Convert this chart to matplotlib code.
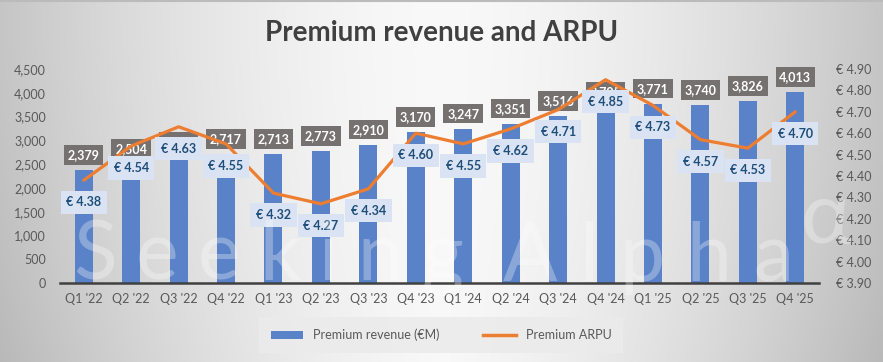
import numpy as np
import matplotlib
matplotlib.use("Agg")
import matplotlib.pyplot as plt
from matplotlib.patches import Patch
from matplotlib.lines import Line2D

categories = ["Q1 '22", "Q2 '22", "Q3 '22", "Q4 '22", "Q1 '23", "Q2 '23", "Q3 '23", "Q4 '23",
              "Q1 '24", "Q2 '24", "Q3 '24", "Q4 '24", "Q1 '25", "Q2 '25", "Q3 '25", "Q4 '25"]
revenue = [2379, 2504, 2651, 2717, 2713, 2773, 2910, 3170, 3247, 3351, 3516, 3705, 3771, 3740, 3826, 4013]
arpu = [4.38, 4.54, 4.63, 4.55, 4.32, 4.27, 4.34, 4.60, 4.55, 4.62, 4.71, 4.85, 4.73, 4.57, 4.53, 4.70]
left_ticks = [0, 500, 1000, 1500, 2000, 2500, 3000, 3500, 4000, 4500]
right_ticks = [3.9, 4.0, 4.1, 4.2, 4.3, 4.4, 4.5, 4.6, 4.7, 4.8, 4.9]

plt.rcParams['font.family'] = ['Lato', 'DejaVu Sans']

W, H = 883, 362
fig = plt.figure(figsize=(W / 100, H / 100), dpi=100)

# background gradient
bg = fig.add_axes([0, 0, 1, 1], zorder=-10)
xx, yy = np.meshgrid(np.linspace(-1, 1, 400), np.linspace(-1, 1, 200))
v = 0.975 - 0.2 * (np.abs(xx) ** 1.6) - 0.05 * ((yy + 1) / 2) ** 2 * (np.abs(xx) ** 0.8)
img = np.dstack([v, v, v])
bg.imshow(img, aspect='auto', extent=[0, 1, 0, 1], origin='upper')
bg.set_axis_off()
bg.set_xlim(0, 1)
bg.set_ylim(0, 1)
bg.plot([0, 1], [0.997, 0.997], color='#BBBBBB', lw=1.5)

x0, x1 = 60 / W, 819 / W
y0, y1 = 1 - 283 / H, 1 - 69 / H
ax = fig.add_axes([x0, y0, x1 - x0, y1 - y0])
ax.patch.set_alpha(0)
x = np.arange(len(categories))
ax.bar(x, revenue, width=0.38, color='#5A82C8', zorder=2)
ax.set_xlim(-0.5, len(categories) - 0.5)
ax.set_ylim(0, 4500)
ax.set_yticks(left_ticks)
ax.set_yticklabels([f"{t:,}" for t in left_ticks])
ax.set_xticks(x)
ax.set_xticklabels(categories)
for s in ['top', 'right', 'left']:
    ax.spines[s].set_visible(False)
ax.spines['bottom'].set_color('#404040')
ax.spines['bottom'].set_linewidth(1.8)
ax.tick_params(axis='y', length=0, pad=10, labelsize=9, labelcolor='#595959')
ax.tick_params(axis='x', length=0, pad=7, labelsize=9, labelcolor='#595959')

for xi, r in zip(x, revenue):
    ax.annotate(f"{r:,}", (xi, r), xytext=(0, 15), textcoords='offset pixels',
                ha='center', va='center', fontsize=9, fontweight='bold', color='white',
                bbox=dict(boxstyle='square,pad=0.3', fc='#767171', ec='none'), zorder=3)

ax2 = ax.twinx()
ax2.set_ylim(3.9, 4.9)
ax2.set_yticks(right_ticks)
ax2.set_yticklabels([f"€ {t:.2f}" for t in right_ticks])
for s in ['top', 'right', 'left', 'bottom']:
    ax2.spines[s].set_visible(False)
ax2.tick_params(axis='y', length=0, pad=12, labelsize=9, labelcolor='#595959')
ax2.plot(x, arpu, color='#ED7D31', lw=2.3, zorder=4, solid_capstyle='round')
for xi, a in zip(x, arpu):
    ax2.annotate(f"€ {a:.2f}", (xi, a), xytext=(0, -22), textcoords='offset pixels',
                 ha='center', va='center', fontsize=9, fontweight='bold', color='#1F4E79',
                 bbox=dict(boxstyle='square,pad=0.45', fc='#D9E3F3', ec='none'), zorder=5)

# watermark: letter-spaced text
renderer = fig.canvas.get_renderer()


def spaced_word(word, x_start, x_end, baseline_px, size):
    objs = [fig.text(0, 1 - baseline_px / H, ch, fontsize=size, fontweight='normal',
                     color='white', alpha=0.3, ha='left', va='baseline', zorder=20)
            for ch in word]
    widths = [o.get_window_extent(renderer).width for o in objs]
    gap = (x_end - x_start - sum(widths)) / max(len(word) - 1, 1)
    pos = x_start
    for o, w in zip(objs, widths):
        o.set_x(pos / W)
        pos += w + gap


spaced_word("Seeking", 73, 463, 280, 58)
spaced_word("Alpha", 503, 793, 281, 58)
fig.text(800 / W, 1 - 243 / H, "α", fontsize=62, fontweight='normal', color='white',
         alpha=0.3, ha='left', va='baseline', zorder=20)

fig.text(0.5, 1 - 33 / H, "Premium revenue and ARPU", ha='center', va='center',
         fontsize=20, fontweight='bold', color='#404040')

handles = [Patch(facecolor='#5A82C8', edgecolor='none'),
           Line2D([0], [0], color='#ED7D31', lw=2.5)]
leg = fig.legend(handles, ["Premium revenue (€M)", "Premium ARPU"], loc='center',
                 bbox_to_anchor=(441 / W, 1 - 335 / H), ncol=2, frameon=True,
                 fontsize=9, handlelength=2.6, handleheight=0.6, columnspacing=3.5,
                 borderpad=0.6, borderaxespad=0)
leg.get_frame().set_facecolor('#EBEBEB')
leg.get_frame().set_edgecolor('none')
leg.get_frame().set_alpha(0.9)
leg.get_frame().set_boxstyle('square')
for t in leg.get_texts():
    t.set_color('#595959')

fig.savefig("out.png", dpi=100)
